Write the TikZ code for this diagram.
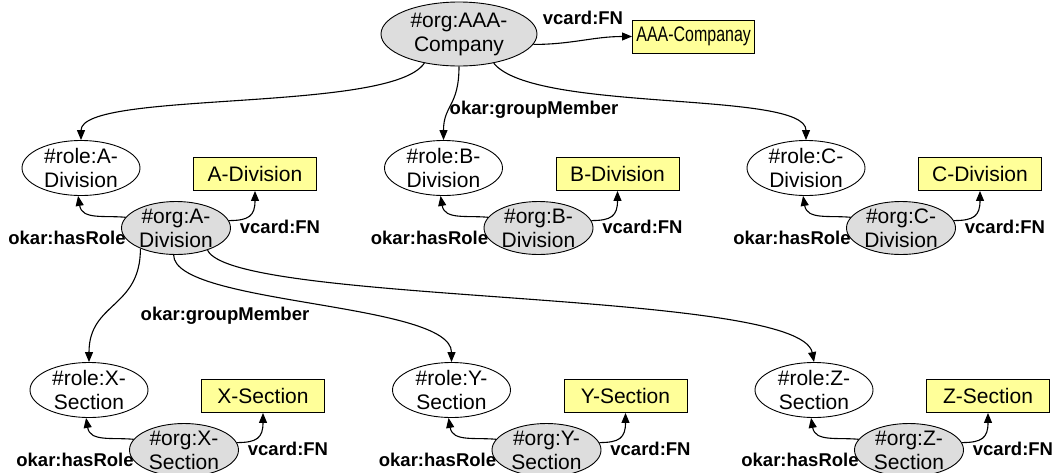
\documentclass[tikz,border=0pt]{standalone}
\usepackage{fontspec}
\setmainfont{Liberation Sans}
\usetikzlibrary{shapes.geometric,arrows.meta}
\definecolor{orggrey}{HTML}{DDDDDD}
\definecolor{boxyellow}{HTML}{FFFF99}
\tikzset{
  nt/.style={font=\fontsize{21}{24}\selectfont, align=center, inner sep=0pt},
  rolee/.style={ellipse, draw, line width=0.9pt, fill=white, minimum width=118pt, minimum height=55pt, inner sep=0pt},
  orge/.style={ellipse, draw, line width=0.9pt, fill=orggrey, minimum width=109pt, minimum height=53pt, inner sep=0pt},
  boxn/.style={rectangle, draw, line width=0.9pt, fill=boxyellow, minimum width=123pt, minimum height=33pt, inner xsep=12pt, font=\fontsize{21}{24}\selectfont},
  lbl/.style={font=\bfseries\fontsize{18.5}{20}\selectfont, inner sep=0pt},
  arr/.style={line width=1.1pt, -{Triangle[length=10pt,width=8pt]}}
}
\newcommand{\dgroup}[5]{%
  \begin{scope}[shift={#2}]
    \node[rolee, label={[nt]center:{#3}}] (#1r) at (0,0) {};
    \node[boxn] (#1b) at (174,6) {#4};
    \node[orge, label={[nt]center:{#5}}] (#1o) at (95,60) {};
    \node[lbl] (#1h) at (-14,70) {okar:hasRole};
    \node[lbl] (#1v) at (199,59) {vcard:FN};
    \draw[arr] (#1o.168) .. controls +(-22,-2) and +(4,24) .. (#1r.-96);
    \draw[arr] (#1o.8) .. controls +(20,0) and +(0,25) .. (#1b.south);
  \end{scope}}
\begin{document}
\begin{tikzpicture}[x=1pt,y=-1pt]
  \useasboundingbox (0,0) rectangle (1062,472);
  \fill[white] (0,0) rectangle (1062,472);
  \clip (0,0) rectangle (1062,472);
  % top
  \node[orge, minimum width=156pt, minimum height=64pt, label={[nt]center:{\#org:AAA-\\Company}}] (top) at (459,34) {};
  \node[boxn, anchor=west, minimum width=122pt, inner xsep=4pt] (topb) at (632,36.5) {\scalebox{0.76}[1]{AAA-Companay}};
  \node[lbl] (topv) at (583,18) {vcard:FN};
  \node[lbl] (topg) at (534,110) {okar:groupMember};
  \draw[arr] (top.-8) to[out=0,in=180] (topb.west);
  % groups
  \dgroup{a}{(81,168)}{\#role:A-\\Division}{A-Division}{\#org:A-\\Division}
  \dgroup{b}{(443.5,168)}{\#role:B-\\Division}{B-Division}{\#org:B-\\Division}
  \dgroup{c}{(806,168)}{\#role:C-\\Division}{C-Division}{\#org:C-\\Division}
  \dgroup{x}{(89,390)}{\#role:X-\\Section}{X-Section}{\#org:X-\\Section}
  \dgroup{y}{(451.5,390)}{\#role:Y-\\Section}{Y-Section}{\#org:Y-\\Section}
  \dgroup{z}{(814,390)}{\#role:Z-\\Section}{Z-Section}{\#org:Z-\\Section}
  % top to divisions
  \draw[arr] (top.-140) .. controls +(-33,50) and +(0,-50) .. (ar.north);
  \draw[arr] (top.south) .. controls +(0,40) and +(0,-35) .. (br.north);
  \draw[arr] (top.-40) .. controls +(40,50) and +(0,-50) .. (cr.north);
  % A-division to sections
  \node[lbl] (ag) at (225,316) {okar:groupMember};
  \draw[arr] (ao.-150) .. controls +(0,60) and +(0,-60) .. (xr.north);
  \draw[arr] (ao.-95) .. controls +(0,50) and +(0,-60) .. (yr.north);
  \draw[arr] (ao.-35) .. controls +(25,55) and +(-14,-73) .. (zr.north);
\end{tikzpicture}
\end{document}
